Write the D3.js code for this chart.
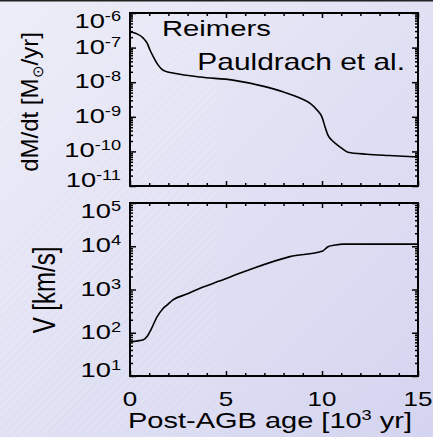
<!DOCTYPE html>
<html>
<head>
  <style>
    html, body { margin: 0; padding: 0; }
    body { width: 433px; height: 437px; overflow: hidden; }
    text { font-family: "Liberation Sans", Arial, sans-serif; fill: #000; }
  </style>
</head>
<body>
  <script src="https://d3js.org/d3.v7.min.js"></script>
  <script>
    // mass-loss rate panel
    const ageMdot = [0, 0.35, 0.68, 0.9, 1.04, 1.25, 1.46, 1.65, 1.82, 2.3, 3.65, 5.36, 7.14, 8.0,
                     8.85, 9.4, 9.74, 10.0, 10.16, 10.31, 10.5, 10.68, 11.0, 11.35, 12.34, 13.5, 15];
    const mdot = [2.82e-7, 2.51e-7, 1.91e-7, 1.32e-7, 8.5e-8, 5.0e-8, 3.16e-8, 2.4e-8, 2.09e-8, 1.82e-8,
                  1.41e-8, 1.15e-8, 7.2e-9, 5.2e-9, 3.5e-9, 2.4e-9, 1.58e-9, 9.8e-10, 5.1e-10, 2.95e-10,
                  2.14e-10, 1.74e-10, 1.26e-10, 9.5e-11, 8.3e-11, 7.6e-11, 6.9e-11];
    // wind velocity panel
    const ageV = [0, 0.4, 0.7, 0.9, 1.1, 1.4, 1.7, 1.93, 2.24, 3.0, 3.65, 4.69, 6.0, 8.33, 10.04, 10.31, 10.7, 11.1, 12, 15];
    const vel = [62, 65, 69, 83, 120, 229, 355, 437, 575, 794, 1070, 1585, 2630, 5750, 7760, 9770, 10700, 11200, 11200, 11200];

    const xTicks = [0, 5, 10, 15];
    const mdotTicks = [-6, -7, -8, -9, -10, -11];
    const velTicks = [5, 4, 3, 2, 1];

    const width = 433, height = 437;
    const left = 130, right = 418;
    const sx = 1.3; // glyphs in the figure are drawn wide

    const svg = d3.select('body').append('svg')
      .attr('width', width)
      .attr('height', height);

    // background
    const defs = svg.append('defs');
    const grad = defs.append('linearGradient').attr('id', 'bg')
      .attr('x1', 0).attr('y1', 0).attr('x2', 1).attr('y2', 1);
    grad.append('stop').attr('offset', 0).attr('stop-color', '#ededf8');
    grad.append('stop').attr('offset', 1).attr('stop-color', '#d4d4f0');
    const pat = defs.append('pattern').attr('id', 'hatch')
      .attr('width', 6).attr('height', 6).attr('patternUnits', 'userSpaceOnUse')
      .attr('patternTransform', 'rotate(45)');
    pat.append('line').attr('x1', 0).attr('y1', 0).attr('x2', 0).attr('y2', 6)
      .attr('stroke', '#ffffff').attr('stroke-width', 1).attr('stroke-opacity', 0.35);
    svg.append('rect').attr('width', width).attr('height', height).attr('fill', 'url(#bg)');
    svg.append('rect').attr('width', 220).attr('height', height).attr('fill', 'url(#hatch)');
    svg.append('line').attr('x1', 0).attr('x2', width).attr('y1', 0.75).attr('y2', 0.75)
      .attr('stroke', '#222').attr('stroke-width', 1.5);

    const x = d3.scaleLinear().domain([0, 15]).range([left, right]);
    const xMinor = d3.range(0, 16).filter(d => d % 5 !== 0);

    // horizontally stretched text
    function wideText(parent, px, py, anchor, size) {
      return parent.append('g')
        .attr('transform', `translate(${px},${py}) scale(${sx},1)`)
        .append('text')
        .attr('text-anchor', anchor)
        .attr('font-size', size + 'px');
    }

    function minorLog(lo, hi) {
      const out = [];
      for (let k = lo; k < hi; k++) {
        for (let m = 2; m <= 9; m++) out.push(m * Math.pow(10, k));
      }
      return out;
    }

    function panel(top, bottom, y, majors, minors, xs, ys) {
      const g = svg.append('g');
      const maj = majors.map(e => Math.pow(10, e));
      g.append('g').attr('transform', `translate(${left},0)`)
        .call(d3.axisLeft(y).tickValues(maj).tickSize(-6).tickFormat(''));
      g.append('g').attr('transform', `translate(${left},0)`)
        .call(d3.axisLeft(y).tickValues(minors).tickSize(-3).tickFormat(''));
      g.append('g').attr('transform', `translate(${right},0)`)
        .call(d3.axisRight(y).tickValues(maj).tickSize(-6).tickFormat(''));
      g.append('g').attr('transform', `translate(${right},0)`)
        .call(d3.axisRight(y).tickValues(minors).tickSize(-3).tickFormat(''));
      g.append('g').attr('transform', `translate(0,${top})`)
        .call(d3.axisTop(x).tickValues(xTicks).tickSize(-5).tickFormat(''));
      g.append('g').attr('transform', `translate(0,${top})`)
        .call(d3.axisTop(x).tickValues(xMinor).tickSize(-3).tickFormat(''));
      g.append('g').attr('transform', `translate(0,${bottom})`)
        .call(d3.axisBottom(x).tickValues(xTicks).tickSize(-5).tickFormat(''));
      g.append('g').attr('transform', `translate(0,${bottom})`)
        .call(d3.axisBottom(x).tickValues(xMinor).tickSize(-3).tickFormat(''));
      g.selectAll('.domain').remove();
      g.selectAll('.tick line').attr('stroke', '#000').attr('stroke-width', 1.5);

      // y labels, end labels kept inside the panel
      majors.forEach(e => {
        const cy = Math.max(top + 7, Math.min(bottom - 7, y(Math.pow(10, e)) - 1.5));
        const t = wideText(g, 121, cy + 7.5, 'end', 21);
        t.append('tspan').text('10');
        t.append('tspan').attr('dy', '-7').attr('font-size', '14px').text(e);
      });

      // curve
      const line = d3.line().x((d, i) => x(xs[i])).y(d => y(d)).curve(d3.curveMonotoneX);
      g.append('path').datum(ys).attr('d', line)
        .attr('fill', 'none').attr('stroke', '#000').attr('stroke-width', 1.6);

      // frame
      g.append('rect').attr('x', left).attr('y', top)
        .attr('width', right - left).attr('height', bottom - top)
        .attr('fill', 'none').attr('stroke', '#000').attr('stroke-width', 2);

      return g;
    }

    const yM = d3.scaleLog().domain([1e-11, 1e-6]).range([186, 13]);
    const gTop = panel(13, 186, yM, mdotTicks, minorLog(-11, -6), ageMdot, mdot);

    const yV = d3.scaleLog().domain([10, 1e5]).range([376, 203]);
    panel(203, 376, yV, velTicks, minorLog(1, 5), ageV, vel);

    // y titles
    const t1 = svg.append('text')
      .attr('transform', 'translate(38,102) rotate(-90)')
      .attr('text-anchor', 'middle').attr('font-size', '24px');
    t1.append('tspan').text('dM/dt [M');
    t1.append('tspan').attr('font-size', '15px').attr('dy', '5').text('\u2299');
    t1.append('tspan').attr('dy', '-5').text('/yr]');

    svg.append('text')
      .attr('transform', 'translate(55,290) scale(1.3,1) rotate(-90)')
      .attr('text-anchor', 'middle').attr('font-size', '24px')
      .text('V [km/s]');

    // model labels
    wideText(gTop, 162, 36, 'start', 22.5).text('Reimers');
    wideText(gTop, 405, 70, 'end', 23).text('Pauldrach et al.');

    // x labels
    xTicks.forEach(v => {
      wideText(svg, x(v), 406, 'middle', 20).text(v);
    });
    const xt = wideText(svg, 270, 428, 'middle', 22.3);
    xt.append('tspan').text('Post-AGB age [10');
    xt.append('tspan').attr('dy', '-8').attr('font-size', '14px').text('3');
    xt.append('tspan').attr('dy', '8').text(' yr]');
  </script>
</body>
</html>
